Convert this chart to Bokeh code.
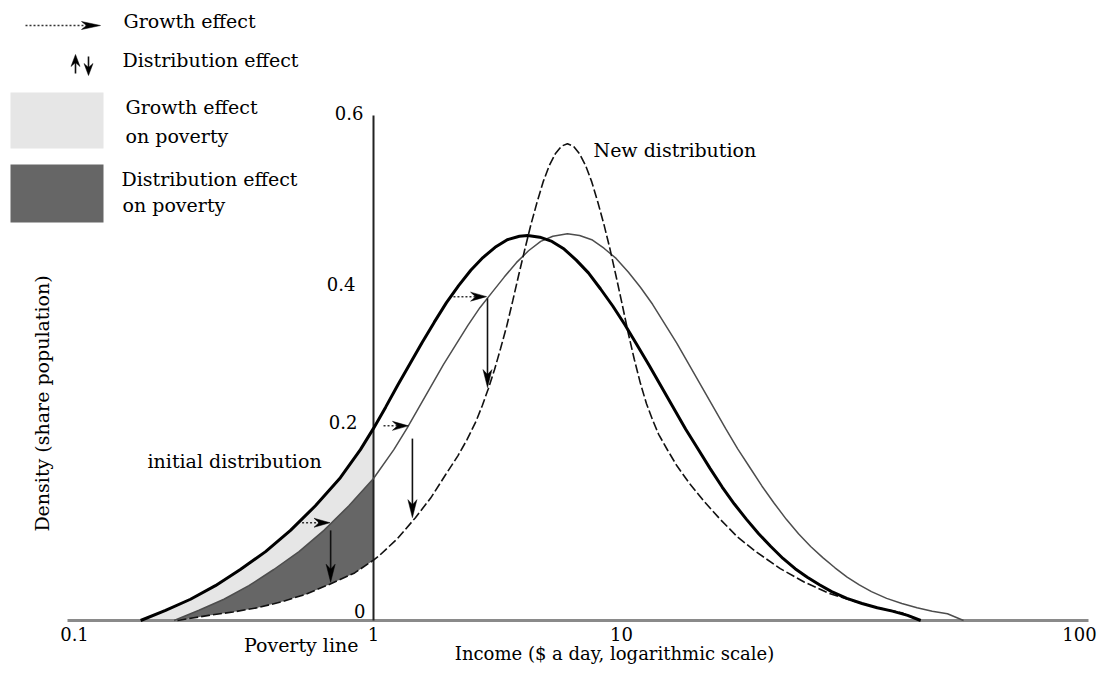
import math
from bokeh.plotting import figure
from bokeh.models import Range1d
from bokeh.core.properties import value
from bokeh.embed import file_html
from bokeh.resources import INLINE

# ---------------- data ----------------
# x = position on the drawn log-income axis (1 $/day at 0), y = density
x_tick_pos = [-1.0, 0.0, 0.816, 2.342]
x_tick_labels = ["0.1", "1", "10", "100"]
y_tick_vals = [0.0, 0.2, 0.4, 0.6]
y_tick_labels = ["0", "0.2", "0.4", "0.6"]
poverty_line_x = 0.0

# initial distribution (thick line)
initial_x = [-0.766, -0.684, -0.602, -0.520, -0.438, -0.355, -0.273, -0.191, -0.109, -0.043,
             0.0, 0.04, 0.08, 0.12, 0.16, 0.20, 0.24, 0.28, 0.32, 0.36,
             0.40, 0.44, 0.48, 0.507, 0.547, 0.587, 0.627, 0.667, 0.707, 0.747,
             0.787, 0.827, 0.867, 0.907, 0.947, 0.987, 1.027, 1.067, 1.107, 1.147,
             1.187, 1.227, 1.267, 1.307, 1.347, 1.387, 1.427, 1.467, 1.507, 1.557,
             1.607, 1.657, 1.707, 1.757, 1.800]
initial_y = [0.0, 0.012, 0.025, 0.041, 0.060, 0.081, 0.106, 0.135, 0.168, 0.201,
             0.226, 0.251, 0.277, 0.302, 0.327, 0.351, 0.374, 0.394, 0.412, 0.427,
             0.439, 0.448, 0.452, 0.453, 0.451, 0.446, 0.437, 0.424, 0.409, 0.390,
             0.370, 0.348, 0.324, 0.300, 0.275, 0.250, 0.225, 0.202, 0.179, 0.157,
             0.137, 0.119, 0.102, 0.087, 0.073, 0.061, 0.051, 0.042, 0.034, 0.026,
             0.020, 0.015, 0.011, 0.006, 0.0]

# distribution after the growth effect only (thin line)
shifted_x = [-0.656, -0.574, -0.492, -0.410, -0.328, -0.245, -0.163, -0.081, 0.0, 0.067,
             0.11, 0.15, 0.19, 0.23, 0.27, 0.31, 0.35, 0.39, 0.43, 0.47,
             0.51, 0.55, 0.59, 0.638, 0.678, 0.718, 0.758, 0.798, 0.838, 0.878,
             0.918, 0.958, 0.998, 1.038, 1.078, 1.118, 1.158, 1.198, 1.238, 1.278,
             1.318, 1.358, 1.398, 1.438, 1.478, 1.518, 1.558, 1.598, 1.638, 1.688,
             1.738, 1.788, 1.838, 1.888, 1.941]
shifted_y = [0.0, 0.012, 0.025, 0.041, 0.060, 0.081, 0.106, 0.135, 0.167, 0.201,
             0.226, 0.251, 0.276, 0.301, 0.324, 0.347, 0.368, 0.386, 0.404, 0.421,
             0.435, 0.446, 0.452, 0.455, 0.453, 0.448, 0.438, 0.426, 0.410, 0.392,
             0.372, 0.349, 0.326, 0.301, 0.276, 0.251, 0.226, 0.202, 0.180, 0.158,
             0.138, 0.119, 0.102, 0.087, 0.074, 0.062, 0.051, 0.042, 0.034, 0.026,
             0.020, 0.015, 0.011, 0.008, 0.0]

# new distribution (dashed line)
new_x = [-0.645, -0.542, -0.462, -0.382, -0.302, -0.222, -0.142, -0.062, 0.0, 0.018,
         0.078, 0.138, 0.188, 0.238, 0.278, 0.308, 0.338, 0.358, 0.378, 0.398,
         0.418, 0.438, 0.458, 0.478, 0.498, 0.518, 0.538, 0.558, 0.578, 0.598,
         0.618, 0.638, 0.658, 0.678, 0.698, 0.718, 0.738, 0.758, 0.778, 0.798,
         0.818, 0.838, 0.858, 0.878, 0.898, 0.918, 0.938, 0.968, 0.998, 1.038,
         1.088, 1.138, 1.198, 1.258, 1.338, 1.418, 1.498, 1.578, 1.658, 1.738,
         1.799]
new_y = [0.0, 0.006, 0.010, 0.015, 0.022, 0.031, 0.043, 0.056, 0.071, 0.076,
         0.096, 0.121, 0.144, 0.172, 0.194, 0.213, 0.235, 0.253, 0.273, 0.295,
         0.320, 0.346, 0.376, 0.407, 0.437, 0.466, 0.492, 0.516, 0.535, 0.549,
         0.558, 0.561, 0.558, 0.549, 0.535, 0.516, 0.492, 0.466, 0.437, 0.405,
         0.372, 0.338, 0.307, 0.279, 0.255, 0.236, 0.219, 0.200, 0.182, 0.162,
         0.140, 0.120, 0.098, 0.081, 0.061, 0.045, 0.032, 0.023, 0.015, 0.009,
         0.0]

# growth-effect arrows (horizontal) and distribution-effect arrows (vertical)
growth_arrow_y = [0.115, 0.229, 0.381]
growth_arrow_x0 = [-0.235, 0.033, 0.263]
growth_arrow_x1 = [-0.143, 0.115, 0.372]
dist_arrow_x = [-0.141, 0.128, 0.375]
dist_arrow_y0 = [0.106, 0.214, 0.379]
dist_arrow_y1 = [0.045, 0.121, 0.274]

# ---------------- layout / style ----------------
W, H = 1098, 668
SX, SY = 304.0, 850.0          # pixels per x unit / per density unit
OX, OY = 373.0, 620.0          # canvas pixel of (x=0, density=0)
TXT = 9                        # correction for where the text baseline lands


def ux(cx):
    return (cx - OX) / SX


def dy(cy):
    return (OY - cy) / SY


def ty(cy):
    return dy(cy - TXT)


FONT = value("DejaVu Serif")
INK = "#000000"
LIGHT = "#e6e6e6"
DARK = "#666666"

p = figure(width=W, height=H,
           x_range=Range1d(-OX / SX, (W - OX) / SX),
           y_range=Range1d(-(H - OY) / SY, OY / SY),
           output_backend="svg", toolbar_location=None,
           x_axis_location=None, y_axis_location=None,
           min_border=0, outline_line_color=None,
           background_fill_color="white", border_fill_color="white")
p.grid.visible = False


def head(xt, yt, direction, L, Wd, N):
    if direction == "right":
        pts = [(0, 0), (-L, Wd), (-N, 0), (-L, -Wd)]
    elif direction == "down":
        pts = [(0, 0), (-Wd, L), (0, N), (Wd, L)]
    else:  # up
        pts = [(0, 0), (-Wd, -L), (0, -N), (Wd, -L)]
    return [xt + a / SX for a, b in pts], [yt + b / SY for a, b in pts]


# ---- shaded poverty areas (left of the poverty line) ----
def left_part(xs, ys):
    return [(x, y) for x, y in zip(xs, ys) if x <= poverty_line_x]


ini = left_part(initial_x, initial_y)
sh = left_part(shifted_x, shifted_y)
nw = left_part(new_x, new_y)
p.patch([a for a, b in ini] + [a for a, b in sh[::-1]],
        [b for a, b in ini] + [b for a, b in sh[::-1]],
        fill_color=LIGHT, line_color=None)
p.patch([a for a, b in sh] + [a for a, b in nw[::-1]],
        [b for a, b in sh] + [b for a, b in nw[::-1]],
        fill_color=DARK, line_color=None)

# ---- axes ----
p.line([ux(67), ux(1088)], [0, 0], line_color="#8a8a8a", line_width=3)
p.line([poverty_line_x, poverty_line_x], [0, dy(115)], line_color="#222222", line_width=2)

# ---- curves ----
p.line(shifted_x, shifted_y, line_color="#4d4d4d", line_width=1.5)
p.line(new_x, new_y, line_color="#111111", line_width=1.6, line_dash="9 3")
p.line(initial_x, initial_y, line_color="#000000", line_width=3)

# ---- arrows ----
for y, x0, x1 in zip(growth_arrow_y, growth_arrow_x0, growth_arrow_x1):
    p.line([x0, x1 - 10 / SX], [y, y], line_color="#333333", line_width=1.5, line_dash="2 2")
    hx, hy = head(x1, y, "right", 16, 4.5, 11)
    p.patch(hx, hy, fill_color="#000000", line_color="#000000", line_width=0.5)
for x, y0, y1 in zip(dist_arrow_x, dist_arrow_y0, dist_arrow_y1):
    p.line([x, x], [y0, y1 + 12 / SY], line_color="#111111", line_width=1.6)
    hx, hy = head(x, y1, "down", 18, 4.5, 13)
    p.patch(hx, hy, fill_color="#000000", line_color="#000000", line_width=0.5)

# ---- legend ----
p.line([ux(25), ux(86)], [dy(25), dy(25)], line_color="#333333", line_width=1.5, line_dash="2 2")
hx, hy = head(ux(100), dy(25), "right", 19, 4, 14)
p.patch(hx, hy, fill_color="#000000", line_color="#000000", line_width=0.5)
p.line([ux(75), ux(75)], [dy(73), dy(60)], line_color="#111111", line_width=1.6)
hx, hy = head(ux(75), dy(54), "up", 12, 4.5, 8)
p.patch(hx, hy, fill_color="#000000", line_color="#000000", line_width=0.5)
p.line([ux(88), ux(88)], [dy(56), dy(69)], line_color="#111111", line_width=1.6)
hx, hy = head(ux(88), dy(75), "down", 12, 4.5, 8)
p.patch(hx, hy, fill_color="#000000", line_color="#000000", line_width=0.5)
p.quad(left=[ux(10)], right=[ux(103)], top=[dy(92)], bottom=[dy(148)],
       fill_color=LIGHT, line_color=None)
p.quad(left=[ux(10)], right=[ux(103)], top=[dy(164)], bottom=[dy(222)],
       fill_color=DARK, line_color=None)

legend_texts = ["Growth effect", "Distribution effect", "Growth effect", "on poverty",
                "Distribution effect", "on poverty"]
legend_cx = [123, 122, 125, 125, 121, 122]
legend_cy = [29, 68, 115, 144, 187, 213]
p.text(x=[ux(v) for v in legend_cx], y=[ty(v) for v in legend_cy], text=legend_texts,
       text_font=FONT, text_font_size="19px", text_color=INK,
       text_align="left", text_baseline="alphabetic")

# ---- tick labels ----
p.text(x=x_tick_pos, y=[0.0] * len(x_tick_pos), text=x_tick_labels,
       x_offset=[5, 0, 0, -6], y_offset=[22 - TXT] * len(x_tick_pos),
       text_font=FONT, text_font_size="18px", text_color=INK,
       text_align="center", text_baseline="alphabetic")
p.text(x=[poverty_line_x] * len(y_tick_vals), y=y_tick_vals, text=y_tick_labels,
       x_offset=[-8, -16, -18, -10], y_offset=[v - TXT for v in (-1, -20, 12, 11)],
       text_font=FONT, text_font_size="18px", text_color=INK,
       text_align="right", text_baseline="alphabetic")

# ---- annotations ----
p.text(x=[ux(147)], y=[ty(469)], text=["initial distribution"], text_font=FONT,
       text_font_size="19px", text_color=INK, text_align="left", text_baseline="alphabetic")
p.text(x=[ux(593)], y=[ty(158)], text=["New distribution"], text_font=FONT,
       text_font_size="19px", text_color=INK, text_align="left", text_baseline="alphabetic")
p.text(x=[poverty_line_x], y=[0.0], text=["Poverty line"], x_offset=[-15], y_offset=[33 - TXT],
       text_font=FONT, text_font_size="19px", text_color=INK,
       text_align="right", text_baseline="alphabetic")
p.text(x=[ux(614)], y=[ty(662)], text=["Income ($ a day, logarithmic scale)"], text_font=FONT,
       text_font_size="18px", text_color=INK, text_align="center", text_baseline="alphabetic")
p.text(x=[ux(50 - TXT)], y=[dy(403)], text=["Density (share population)"], angle=math.pi / 2,
       text_font=FONT, text_font_size="19px", text_color=INK,
       text_align="center", text_baseline="alphabetic")

open("out.html", "w").write(file_html(p, INLINE))
